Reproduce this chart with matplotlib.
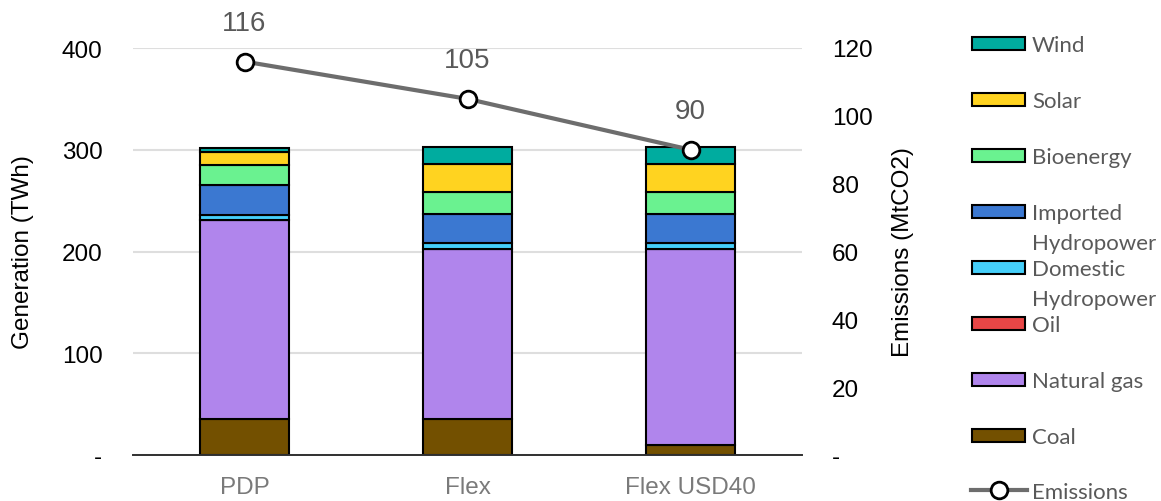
import matplotlib
matplotlib.use("Agg")
import matplotlib.pyplot as plt
from matplotlib.patches import Rectangle
from matplotlib.lines import Line2D
import numpy as np

plt.rcParams['font.family'] = ['Liberation Sans', 'DejaVu Sans']

# Scenarios and generation mix (TWh), bottom to top of each stack
scenarios = ["PDP", "Flex", "Flex USD40"]
coal = [35, 35, 10]
natural_gas = [196, 167.5, 192.5]
oil = [0, 0, 0]
domestic_hydro = [5, 5.5, 5.5]
imported_hydro = [29, 29, 29]
bioenergy = [20.5, 21, 21]
solar = [12.5, 28, 28]
wind = [4, 17, 17]

# CO2 emissions (MtCO2)
emissions = [116, 105, 90]

series = [
    ("Coal", coal, "#735000"),
    ("Natural gas", natural_gas, "#B085EC"),
    ("Oil", oil, "#E84646"),
    ("Domestic\nHydropower", domestic_hydro, "#45CFFA"),
    ("Imported\nHydropower", imported_hydro, "#3B78D1"),
    ("Bioenergy", bioenergy, "#6AF290"),
    ("Solar", solar, "#FFD320"),
    ("Wind", wind, "#00AC9F"),
]

W, H = 1161, 502
AX_L, AX_R, AX_T, AX_B = 133, 802, 49, 456
fig = plt.figure(figsize=(W / 100, H / 100), dpi=100)
ax = fig.add_axes([AX_L / W, 1 - AX_B / H, (AX_R - AX_L) / W, (AX_B - AX_T) / H])

x = np.arange(len(scenarios))
bottom = np.zeros(len(scenarios))
for name, vals, color in series:
    vals = np.array(vals, dtype=float)
    ax.bar(x, vals, width=0.40, bottom=bottom, color=color,
           edgecolor="black", linewidth=1.5, zorder=3)
    bottom += vals

ax.set_xlim(-0.5, 2.5)
ax.set_ylim(0, 400)
ax.set_yticks([0, 100, 200, 300, 400])
ax.set_yticklabels(["-", "100", "200", "300", "400"])
ax.yaxis.grid(True, color="#dedede", linewidth=1.5, zorder=0)
ax.set_axisbelow(True)
for s in ["top", "left", "right"]:
    ax.spines[s].set_visible(False)
ax.spines["bottom"].set_color("#303030")
ax.spines["bottom"].set_linewidth(1.4)
ax.spines["bottom"].set_zorder(4)
ax.tick_params(axis="y", length=0, pad=22, labelsize=17.5, labelcolor="black")
ax.set_xticks(x)
ax.set_xticklabels(scenarios)
ax.tick_params(axis="x", length=0, pad=15, labelsize=17.5, labelcolor="#7a7a7a")
ax.set_ylabel("Generation (TWh)", fontsize=17.5, color="black", labelpad=0)
ax.yaxis.set_label_coords(-(AX_L - 34) / (AX_R - AX_L), 0.5)

ax2 = ax.twinx()
ax2.set_ylim(0, 120)
ax2.set_yticks([0, 20, 40, 60, 80, 100, 120])
ax2.set_yticklabels(["-", "20", "40", "60", "80", "100", "120"])
for s in ["top", "left", "right", "bottom"]:
    ax2.spines[s].set_visible(False)
ax2.tick_params(axis="y", length=0, pad=21.5, labelsize=17.5, labelcolor="black")
ax2.set_ylabel("Emissions (MtCO2)", fontsize=17.5, color="black")
ax2.yaxis.set_label_coords(1 + (892 - AX_R) / (AX_R - AX_L), 0.5)

ax2.plot(x, emissions, color="#6d6d6d", linewidth=3, marker="o",
         markersize=12, markerfacecolor="white", markeredgecolor="black",
         markeredgewidth=2, zorder=5)
for xi, v in zip(x, emissions):
    ax2.annotate(f"{v}", (xi, v), xytext=(0, 28), textcoords="offset points",
                 ha="center", va="center", fontsize=20, color="#595959")

# Legend drawn in figure pixel coordinates
leg_font = dict(family=["Lato", "DejaVu Sans"], fontsize=16, color="#595959")
box_x, box_w, box_h = 972, 53, 13
text_x = 1032
y0, step = 44, 56
legend_order = list(reversed(series))
for i, (name, vals, color) in enumerate(legend_order):
    yc = y0 + i * step
    fig.add_artist(Rectangle((box_x / W, 1 - (yc + box_h / 2) / H),
                             box_w / W, box_h / H, transform=fig.transFigure,
                             facecolor=color, edgecolor="black", linewidth=1.5))
    for j, line in enumerate(name.split("\n")):
        fig.text(text_x / W, 1 - (yc + j * 30) / H, line,
                 ha="left", va="center_baseline", **leg_font)

yc = 491
fig.add_artist(Line2D([971 / W, 1027 / W], [1 - yc / H, 1 - yc / H],
                      transform=fig.transFigure, color="#6d6d6d", linewidth=3))
fig.add_artist(Line2D([999 / W], [1 - yc / H], transform=fig.transFigure,
                      marker="o", markersize=12, markerfacecolor="white",
                      markeredgecolor="black", markeredgewidth=2))
fig.text(text_x / W, 1 - yc / H, "Emissions", ha="left",
         va="center_baseline", **leg_font)

fig.savefig("out.png", dpi=100)
